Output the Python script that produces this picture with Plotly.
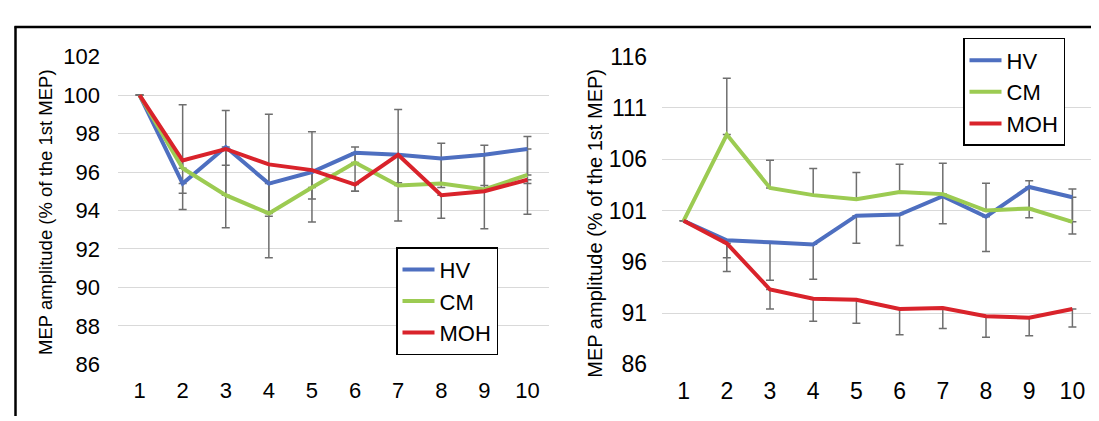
import plotly.graph_objects as go

# ---------------- data ----------------
trials = list(range(1, 11))
series_names = ["HV", "CM", "MOH"]

# Left panel
hv_left = [100, 95.4, 97.3, 95.4, 96.0, 97.0, 96.9, 96.7, 96.9, 97.2]
cm_left = [100, 96.2, 94.8, 93.85, 95.2, 96.5, 95.3, 95.4, 95.1, 95.85]
moh_left = [100, 96.6, 97.2, 96.4, 96.1, 95.35, 96.9, 94.8, 95.0, 95.6]
hv_left_err_minus = [0, 0.5, 0.95, 1.7, 1.4, 2.0, 1.45, 1.5, 1.6, 1.8]
cm_left_err_plus = [0, 3.3, 4.4, 5.15, 2.9, 0.8, 3.95, 2.1, 2.3, 2.0]
moh_left_err_minus = [0, 2.55, 4.1, 4.85, 2.7, 0.35, 3.45, 1.2, 1.95, 1.8]

# Right panel
hv_right = [100, 98.1, 97.9, 97.7, 100.5, 100.6, 102.4, 100.4, 103.3, 102.3]
cm_right = [100, 108.4, 103.2, 102.5, 102.1, 102.8, 102.6, 101.0, 101.2, 99.9]
moh_right = [100, 97.8, 93.3, 92.4, 92.3, 91.4, 91.5, 90.7, 90.55, 91.4]
hv_right_err_minus = [0, 1.7, 3.7, 3.4, 2.7, 3.0, 2.7, 3.4, 3.0, 3.6]
cm_right_err_plus = [0, 5.5, 2.7, 2.6, 2.6, 2.7, 3.0, 2.65, 2.7, 3.2]
moh_right_err_minus = [0, 2.75, 1.9, 2.2, 2.3, 2.5, 2.0, 2.05, 1.75, 1.75]

left_yticks = [86, 88, 90, 92, 94, 96, 98, 100, 102]
right_yticks = [86, 91, 96, 101, 106, 111, 116]
y_title = "MEP amplitude (% of the 1st MEP)"

# ---------------- style ----------------
colors = {"HV": "#4E6FC0", "CM": "#9CCB52", "MOH": "#D9232B"}
err_color = "#6E6E6E"
grid_color = "#D9D9D9"
FONT = "Liberation Sans, Arial, Helvetica, sans-serif"
W, H = 1099, 421

fig = go.Figure()


def add_panel(xa, ya, legend, hv, cm, moh, hv_m, cm_p, moh_m):
    zeros = [0] * len(trials)
    # error bars (drawn first, lines on top)
    for vals, plus, minus in [(cm, cm_p, zeros), (hv, zeros, hv_m), (moh, zeros, moh_m)]:
        fig.add_trace(go.Scatter(
            x=trials, y=vals, mode="markers", marker=dict(size=1, opacity=0),
            error_y=dict(type="data", symmetric=False, array=plus, arrayminus=minus,
                         color=err_color, thickness=1.5, width=4),
            xaxis=xa, yaxis=ya, showlegend=False, hoverinfo="skip"))
    for name, vals in zip(series_names, [hv, cm, moh]):
        fig.add_trace(go.Scatter(
            x=trials, y=vals, mode="lines", name=name,
            line=dict(color=colors[name], width=4),
            xaxis=xa, yaxis=ya, legend=legend, legendgroup=legend + name))


add_panel("x", "y", "legend", hv_left, cm_left, moh_left,
          hv_left_err_minus, cm_left_err_plus, moh_left_err_minus)
add_panel("x2", "y2", "legend2", hv_right, cm_right, moh_right,
          hv_right_err_minus, cm_right_err_plus, moh_right_err_minus)

yb, yt = (H - 366) / H, (H - 38) / H

common_x = dict(range=[0.5, 10.5], tickmode="array", tickvals=trials,
                showgrid=False, zeroline=False, showline=False, ticks="",
                fixedrange=True)

fig.update_layout(
    width=W, height=H,
    margin=dict(l=0, r=0, t=0, b=0),
    paper_bgcolor="white", plot_bgcolor="white",
    font=dict(family=FONT, color="black"),
    xaxis=dict(domain=[110 / W, 541 / W], anchor="y",
               tickfont=dict(size=22), ticklabelstandoff=11, **common_x),
    yaxis=dict(domain=[yb, yt], anchor="x", range=[86, 102],
               tickmode="array", tickvals=left_yticks,
               showgrid=True, gridcolor=grid_color, gridwidth=1.3,
               zeroline=False, showline=False, ticks="",
               tickfont=dict(size=22), ticklabelstandoff=17),
    xaxis2=dict(domain=[654 / W, 1086 / W], anchor="y2",
                tickfont=dict(size=23), ticklabelstandoff=11, **common_x),
    yaxis2=dict(domain=[yb, yt], anchor="x2", range=[86, 116],
                tickmode="array", tickvals=right_yticks,
                showgrid=True, gridcolor=grid_color, gridwidth=1.3,
                zeroline=False, showline=False, ticks="",
                tickfont=dict(size=23), ticklabelstandoff=14),
    legend=dict(x=388 / W, y=(H - 241) / H, xanchor="left", yanchor="top",
                bgcolor="white", bordercolor="black", borderwidth=1.5,
                font=dict(size=22, family=FONT), tracegroupgap=3,
                traceorder="normal", itemwidth=32),
    legend2=dict(x=955 / W, y=(H - 18) / H, xanchor="left", yanchor="top",
                 bgcolor="white", bordercolor="black", borderwidth=1.5,
                 font=dict(size=22, family=FONT), tracegroupgap=3,
                 traceorder="normal", itemwidth=32),
    showlegend=True,
    annotations=[
        dict(text=y_title, x=38 / W, y=(H - 203.5) / H, xref="paper", yref="paper",
             textangle=-90, showarrow=False, font=dict(size=18.5, family=FONT),
             xanchor="center", yanchor="middle"),
        dict(text=y_title, x=587 / W, y=(H - 216) / H, xref="paper", yref="paper",
             textangle=-90, showarrow=False, font=dict(size=20, family=FONT),
             xanchor="center", yanchor="middle"),
    ],
    shapes=[
        dict(type="line", xref="paper", yref="paper", x0=6.5 / W, x1=1.0,
             y0=(H - 6.5) / H, y1=(H - 6.5) / H, line=dict(color="black", width=2.5)),
        dict(type="line", xref="paper", yref="paper", x0=7.5 / W, x1=7.5 / W,
             y0=0, y1=(H - 5.5) / H, line=dict(color="black", width=2.5)),
    ],
)

fig.write_html("out.html")
